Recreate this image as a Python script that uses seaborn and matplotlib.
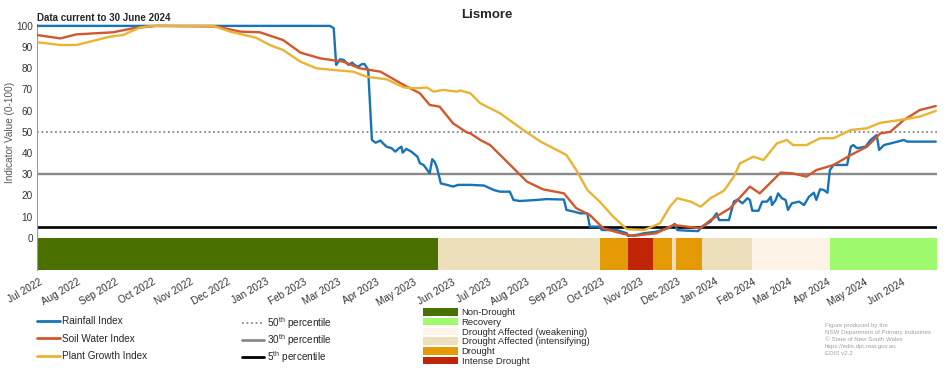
import numpy as np
import pandas as pd
import matplotlib
matplotlib.use('Agg')
import matplotlib.pyplot as plt
import seaborn as sns
from matplotlib.lines import Line2D
from matplotlib.patches import Patch
from matplotlib.transforms import ScaledTranslation

# 读图估计的数据 (days since 1 Jul 2022)
rain_days = [0, 238, 241, 243, 246, 249, 253, 256, 258, 261, 264, 266, 269, 272, 275, 279, 281, 284,
             288, 291, 294, 296, 297, 300, 304, 309, 311, 314, 318, 319, 321, 323, 325, 328, 333, 338,
             342, 352, 363, 371, 376, 384, 387, 392, 406, 414, 428, 430, 436, 441, 447, 449, 456, 459,
             471, 479, 480, 487, 493, 503, 514, 518, 520, 528, 537, 540, 547, 552, 554, 562, 566, 569,
             573, 577, 579, 581, 586, 589, 593, 596, 597, 600, 602, 605, 608, 610, 613, 619, 623, 627,
             631, 633, 636, 639, 642, 644, 647, 658, 661, 663, 666, 673, 677, 682, 684, 688, 699, 704,
             707, 730]
rain_vals = [100, 100, 98.9, 81.6, 84.2, 84, 81.6, 82.7, 81.5, 80.8, 82, 82, 79.2, 46.2, 44.9, 45.9,
             44.6, 43, 42.3, 40.7, 42.3, 43, 40.2, 42, 40.7, 38.3, 35.2, 34.4, 31.2, 30.5, 37.1, 35.9,
             32.8, 25.7, 25, 24.2, 25, 25, 24.7, 22.6, 21.8, 21.8, 17.9, 17.4, 17.9, 18.3, 18.1, 13.2,
             12.4, 11.6, 11.6, 5.3, 5.3, 3.7, 3.7, 2.2, 0.9, 1.4, 2.2, 2.9, 4.8, 6.6, 3.7, 3.4, 3.2,
             5.3, 7.6, 11.6, 8.4, 8.4, 17.1, 18.1, 16.3, 18.7, 17.9, 12.8, 12.8, 17.1, 17.1, 19.4, 15.5,
             17.9, 21, 18.7, 17.9, 13.2, 16.3, 17.1, 15.5, 19.4, 21.3, 17.9, 22.9, 22.6, 21.3, 32, 34.4,
             34.4, 43, 43.8, 42.3, 43, 46.2, 48.5, 41.5, 43.8, 45.4, 46.2, 45.4, 45.4]

soil_days = [0, 19, 32, 62, 78, 97, 146, 165, 181, 200, 214, 230, 249, 262, 279, 298, 311, 319, 327,
             338, 349, 352, 360, 368, 379, 398, 411, 428, 438, 449, 460, 474, 484, 503, 517, 528, 539,
             547, 563, 579, 587, 604, 614, 625, 633, 647, 661, 674, 685, 693, 704, 717, 730]
soil_vals = [95.7, 94.1, 96, 97, 98.9, 100, 99.7, 97.3, 97, 93.3, 87.4, 84.7, 83.1, 80, 78.4, 72.1,
             68.2, 62.7, 61.9, 54, 49.8, 49.3, 46.2, 43.8, 37.5, 26.5, 22.9, 21, 14, 10.8, 4.5, 2.2,
             0.9, 2.2, 6.1, 5.3, 4.5, 8.4, 14, 24.2, 21, 30.8, 30.4, 28.9, 32, 34.4, 39.1, 43, 49.3,
             50, 55.6, 60.3, 62.2]

plant_days = [0, 19, 32, 46, 59, 70, 76, 84, 94, 143, 157, 178, 189, 200, 214, 227, 241, 257, 268,
              284, 298, 306, 317, 322, 330, 341, 344, 352, 360, 376, 395, 409, 430, 438, 447, 457, 468,
              479, 493, 506, 514, 520, 531, 539, 547, 558, 566, 571, 582, 590, 601, 609, 614, 625, 636,
              647, 661, 674, 685, 701, 717, 730]
plant_vals = [92.3, 91, 91, 93, 94.9, 95.7, 97.3, 99.3, 100, 100, 97.3, 94.4, 91, 88.6, 83.1, 80,
              79.2, 78.4, 76, 74.8, 71, 70.6, 70.9, 69, 69.8, 69, 69.5, 68.2, 63.5, 58.8, 50.9, 45.4,
              39.1, 32, 22.6, 17.1, 10, 4.1, 3.7, 6.9, 14.7, 18.7, 17.1, 14.7, 18.7, 22.3, 28.9, 35.2,
              38.3, 36.7, 44.6, 46.2, 43.8, 43.8, 47, 47, 50.9, 51.7, 54.3, 55.6, 57.2, 59.9]

series_names = ['Rainfall Index', 'Soil Water Index', 'Plant Growth Index']
series_colors = ['#1874B8', '#D2582B', '#EAB432']

# 干旱状态色带
cat_starts = ['2022-07-01', '2023-05-23', '2023-10-01', '2023-10-24', '2023-11-13', '2023-11-29',
              '2023-12-02', '2023-12-23', '2024-02-02', '2024-04-05']
cat_ends = cat_starts[1:] + ['2024-07-01']
cat_states = ['Non-Drought', 'Drought Affected (intensifying)', 'Drought', 'Intense Drought',
              'Drought', 'Drought Affected (intensifying)', 'Drought',
              'Drought Affected (intensifying)', 'Drought Affected (weakening)', 'Recovery']
state_names = ['Non-Drought', 'Recovery', 'Drought Affected (weakening)',
               'Drought Affected (intensifying)', 'Drought', 'Intense Drought']
state_colors = ['#4A7100', '#A0FA6E', '#FDF4E7', '#EEDFBC', '#E39A05', '#C02505']

pct_labels = ['50$^{\\mathrm{th}}$ percentile', '30$^{\\mathrm{th}}$ percentile',
              '5$^{\\mathrm{th}}$ percentile']
pct_values = [50, 30, 5]

footer = ['Figure produced by the', 'NSW Department of Primary Industries',
          '\u00a9 State of New South Wales', 'https://edis.dpi.nsw.gov.au', 'EDIS v2.2']

sns.set_style('white')
plt.rcParams['font.family'] = ['Liberation Sans', 'DejaVu Sans']
plt.rcParams['mathtext.fontset'] = 'custom'
plt.rcParams['mathtext.rm'] = 'Liberation Sans'

start = pd.Timestamp('2022-07-01')
frames = []
for name, d, v in zip(series_names, [rain_days, soil_days, plant_days],
                      [rain_vals, soil_vals, plant_vals]):
    frames.append(pd.DataFrame({'date': start + pd.to_timedelta(d, unit='D'),
                                'value': v, 'index': name}))
df = pd.concat(frames, ignore_index=True)

W, H = 952, 370
fig = plt.figure(figsize=(W / 100, H / 100), dpi=100)
ax = fig.add_axes([37 / W, 1 - 269.9 / H, 900 / W, (269.9 - 24.2) / H])

# 色带
color_of = dict(zip(state_names, state_colors))
for s, e, st in zip(cat_starts, cat_ends, cat_states):
    ax.fill_between([pd.Timestamp(s), pd.Timestamp(e)], -15.1, 0, color=color_of[st],
                    lw=0, zorder=0.5)

# 百分位线
ax.axhline(pct_values[0], color='#8a8a8a', lw=1.3, ls=(0, (1, 1.5)), zorder=1.5)
ax.axhline(pct_values[1], color='#8a8a8a', lw=1.7, zorder=1.5)
ax.axhline(pct_values[2], color='black', lw=1.9, zorder=1.5)

sns.lineplot(data=df, x='date', y='value', hue='index', hue_order=series_names,
             palette=series_colors, estimator=None, sort=False, lw=1.7, legend=False, ax=ax,
             zorder=3)

ax.set_xlim(start, pd.Timestamp('2024-07-01'))
ax.set_ylim(-15.1, 100.8)
ax.set_yticks(np.arange(0, 101, 10))
ax.tick_params(axis='y', direction='in', length=5.8, width=0.8, color='#999999',
               labelsize=7.2, labelcolor='#333333', pad=3)
months = pd.date_range('2022-07-01', '2024-06-01', freq='MS')
ax.set_xticks(months)
ax.set_xticklabels([m.strftime('%b %Y') for m in months], rotation=30, ha='right',
                   rotation_mode='anchor', va='top')
ax.tick_params(axis='x', direction='in', length=30.5, width=0.8, color='#8c8c8c',
               labelsize=7.2, labelcolor='#333333', pad=5)
for lab in ax.get_xticklabels():
    lab.set_transform(lab.get_transform() + ScaledTranslation(1.5 / 72, 0, fig.dpi_scale_trans))
ax.set_xlabel('')
ax.set_ylabel('Indicator Value (0-100)', fontsize=7.2, color='#555555')
ax.yaxis.set_label_coords(-22 / 900, (269.9 - 132.5) / 245.7)
sns.despine(ax=ax, top=True, right=True, bottom=True)
ax.spines['left'].set_color('#999999')
ax.spines['left'].set_linewidth(0.8)

fig.text(487 / W, 1 - 15 / H, 'Lismore', ha='center', va='center', fontsize=9.5,
         fontweight='bold')
fig.text(37 / W, 1 - 18 / H, 'Data current to 30 June 2024', ha='left', va='center',
         fontsize=7, fontweight='bold')

# 图例
h1 = [Line2D([], [], color=c, lw=2) for c in series_colors]
fig.legend(h1, series_names, loc='upper left', bbox_to_anchor=(37 / W, 1 - 316 / H),
           frameon=False, fontsize=7.2, handlelength=2.3, handletextpad=0.25,
           labelspacing=0.75, borderpad=0, borderaxespad=0)
h2 = [Line2D([], [], color='#8a8a8a', lw=1.3, ls=(0, (1, 1.5))),
      Line2D([], [], color='#8a8a8a', lw=2),
      Line2D([], [], color='black', lw=2)]
fig.legend(h2, pct_labels, loc='upper left', bbox_to_anchor=(242 / W, 1 - 315 / H),
           frameon=False, fontsize=7.2, handlelength=2.2, handletextpad=0.3,
           labelspacing=0.12, borderpad=0, borderaxespad=0)
h3 = [Patch(color=c, lw=0) for c in state_colors]
fig.legend(h3, state_names, loc='upper left', bbox_to_anchor=(423 / W, 1 - 308 / H),
           frameon=False, fontsize=6.8, handlelength=3.7, handleheight=0.85,
           handletextpad=0.4, labelspacing=0.08, borderpad=0, borderaxespad=0)

fig.text(825 / W, 1 - 323.5 / H, '\n'.join(footer), ha='left', va='top', fontsize=4.4,
         color='#a0a0a0', linespacing=1.45)

fig.savefig('out.png', dpi=100)
